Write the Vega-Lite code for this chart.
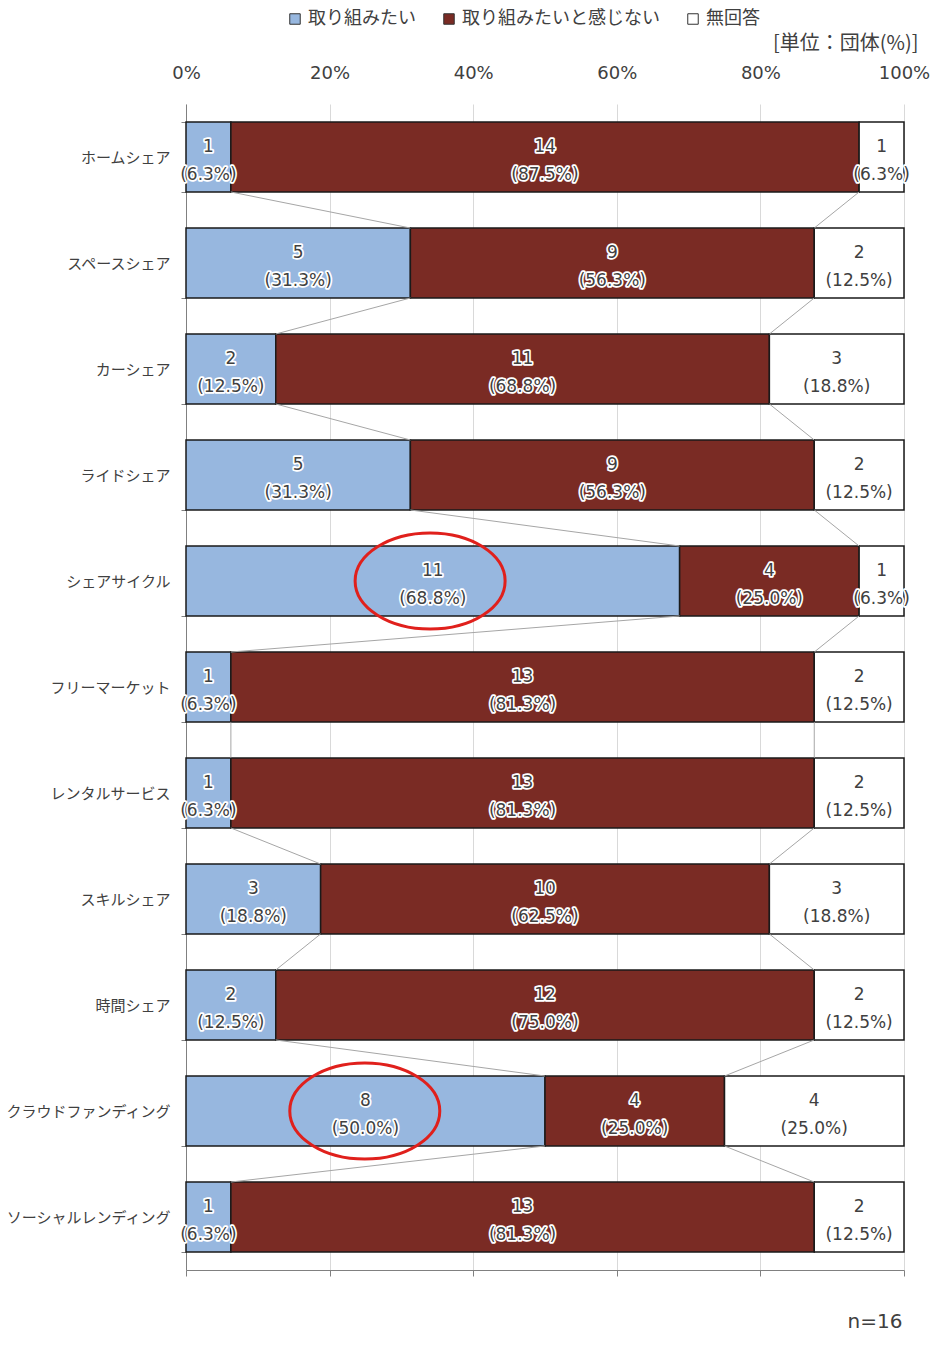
{
  "$schema": "https://vega.github.io/schema/vega-lite/v6.json",
  "width": 718,
  "height": 1166,
  "autosize": {"type": "none"},
  "padding": {"left": 186, "top": 104, "right": 27, "bottom": 76},
  "background": "white",
  "config": {"font": "Noto Sans CJK JP", "view": {"stroke": null}},
  "resolve": {"axis": {"x": "independent", "y": "independent"}},
  "datasets": {
    "bars": [
      {"cat": "ホームシェア", "resp": "取り組みたい", "n": 1, "label": "1\n(6.3%)"},
      {"cat": "ホームシェア", "resp": "取り組みたいと感じない", "n": 14, "label": "14\n(87.5%)"},
      {"cat": "ホームシェア", "resp": "無回答", "n": 1, "label": "1\n(6.3%)"},
      {"cat": "スペースシェア", "resp": "取り組みたい", "n": 5, "label": "5\n(31.3%)"},
      {"cat": "スペースシェア", "resp": "取り組みたいと感じない", "n": 9, "label": "9\n(56.3%)"},
      {"cat": "スペースシェア", "resp": "無回答", "n": 2, "label": "2\n(12.5%)"},
      {"cat": "カーシェア", "resp": "取り組みたい", "n": 2, "label": "2\n(12.5%)"},
      {"cat": "カーシェア", "resp": "取り組みたいと感じない", "n": 11, "label": "11\n(68.8%)"},
      {"cat": "カーシェア", "resp": "無回答", "n": 3, "label": "3\n(18.8%)"},
      {"cat": "ライドシェア", "resp": "取り組みたい", "n": 5, "label": "5\n(31.3%)"},
      {"cat": "ライドシェア", "resp": "取り組みたいと感じない", "n": 9, "label": "9\n(56.3%)"},
      {"cat": "ライドシェア", "resp": "無回答", "n": 2, "label": "2\n(12.5%)"},
      {"cat": "シェアサイクル", "resp": "取り組みたい", "n": 11, "label": "11\n(68.8%)"},
      {"cat": "シェアサイクル", "resp": "取り組みたいと感じない", "n": 4, "label": "4\n(25.0%)"},
      {"cat": "シェアサイクル", "resp": "無回答", "n": 1, "label": "1\n(6.3%)"},
      {"cat": "フリーマーケット", "resp": "取り組みたい", "n": 1, "label": "1\n(6.3%)"},
      {"cat": "フリーマーケット", "resp": "取り組みたいと感じない", "n": 13, "label": "13\n(81.3%)"},
      {"cat": "フリーマーケット", "resp": "無回答", "n": 2, "label": "2\n(12.5%)"},
      {"cat": "レンタルサービス", "resp": "取り組みたい", "n": 1, "label": "1\n(6.3%)"},
      {"cat": "レンタルサービス", "resp": "取り組みたいと感じない", "n": 13, "label": "13\n(81.3%)"},
      {"cat": "レンタルサービス", "resp": "無回答", "n": 2, "label": "2\n(12.5%)"},
      {"cat": "スキルシェア", "resp": "取り組みたい", "n": 3, "label": "3\n(18.8%)"},
      {"cat": "スキルシェア", "resp": "取り組みたいと感じない", "n": 10, "label": "10\n(62.5%)"},
      {"cat": "スキルシェア", "resp": "無回答", "n": 3, "label": "3\n(18.8%)"},
      {"cat": "時間シェア", "resp": "取り組みたい", "n": 2, "label": "2\n(12.5%)"},
      {"cat": "時間シェア", "resp": "取り組みたいと感じない", "n": 12, "label": "12\n(75.0%)"},
      {"cat": "時間シェア", "resp": "無回答", "n": 2, "label": "2\n(12.5%)"},
      {"cat": "クラウドファンディング", "resp": "取り組みたい", "n": 8, "label": "8\n(50.0%)"},
      {"cat": "クラウドファンディング", "resp": "取り組みたいと感じない", "n": 4, "label": "4\n(25.0%)"},
      {"cat": "クラウドファンディング", "resp": "無回答", "n": 4, "label": "4\n(25.0%)"},
      {"cat": "ソーシャルレンディング", "resp": "取り組みたい", "n": 1, "label": "1\n(6.3%)"},
      {"cat": "ソーシャルレンディング", "resp": "取り組みたいと感じない", "n": 13, "label": "13\n(81.3%)"},
      {"cat": "ソーシャルレンディング", "resp": "無回答", "n": 2, "label": "2\n(12.5%)"}
    ],
    "links": [
      {"from": "ホームシェア", "to": "スペースシェア", "xa": 0.0625, "xb": 0.3125},
      {"from": "ホームシェア", "to": "スペースシェア", "xa": 0.9375, "xb": 0.875},
      {"from": "スペースシェア", "to": "カーシェア", "xa": 0.3125, "xb": 0.125},
      {"from": "スペースシェア", "to": "カーシェア", "xa": 0.875, "xb": 0.8125},
      {"from": "カーシェア", "to": "ライドシェア", "xa": 0.125, "xb": 0.3125},
      {"from": "カーシェア", "to": "ライドシェア", "xa": 0.8125, "xb": 0.875},
      {"from": "ライドシェア", "to": "シェアサイクル", "xa": 0.3125, "xb": 0.6875},
      {"from": "ライドシェア", "to": "シェアサイクル", "xa": 0.875, "xb": 0.9375},
      {"from": "シェアサイクル", "to": "フリーマーケット", "xa": 0.6875, "xb": 0.0625},
      {"from": "シェアサイクル", "to": "フリーマーケット", "xa": 0.9375, "xb": 0.875},
      {"from": "フリーマーケット", "to": "レンタルサービス", "xa": 0.0625, "xb": 0.0625},
      {"from": "フリーマーケット", "to": "レンタルサービス", "xa": 0.875, "xb": 0.875},
      {"from": "レンタルサービス", "to": "スキルシェア", "xa": 0.0625, "xb": 0.1875},
      {"from": "レンタルサービス", "to": "スキルシェア", "xa": 0.875, "xb": 0.8125},
      {"from": "スキルシェア", "to": "時間シェア", "xa": 0.1875, "xb": 0.125},
      {"from": "スキルシェア", "to": "時間シェア", "xa": 0.8125, "xb": 0.875},
      {"from": "時間シェア", "to": "クラウドファンディング", "xa": 0.125, "xb": 0.5},
      {"from": "時間シェア", "to": "クラウドファンディング", "xa": 0.875, "xb": 0.75},
      {"from": "クラウドファンディング", "to": "ソーシャルレンディング", "xa": 0.5, "xb": 0.0625},
      {"from": "クラウドファンディング", "to": "ソーシャルレンディング", "xa": 0.75, "xb": 0.875}
    ],
    "circles": [
      {"cat": "シェアサイクル", "x": 0.34},
      {"cat": "クラウドファンディング", "x": 0.249}
    ]
  },
  "layer": [
    {
      "data": {"name": "bars"},
      "mark": {"type": "bar", "stroke": "#1a1a1a", "strokeWidth": 1.5},
      "encoding": {
        "y": {
          "field": "cat", "type": "nominal", "sort": null,
          "scale": {
            "domain": ["ホームシェア", "スペースシェア", "カーシェア", "ライドシェア", "シェアサイクル", "フリーマーケット", "レンタルサービス", "スキルシェア", "時間シェア", "クラウドファンディング", "ソーシャルレンディング"],
            "paddingInner": 0.34, "paddingOuter": 0.17
          },
          "axis": {
            "orient": "left", "title": null, "tickBand": "extent", "tickSize": 5, "tickColor": "#808080",
            "domainColor": "#808080", "labelFontSize": 15, "labelColor": "#404040",
            "labelPadding": 11, "labelLimit": 300, "grid": false
          }
        },
        "x": {
          "field": "n", "type": "quantitative", "stack": "normalize",
          "scale": {"domain": [0, 1], "nice": false},
          "axis": {
            "orient": "top", "format": "%", "values": [0, 0.2, 0.4, 0.6, 0.8, 1],
            "domain": false, "ticks": false, "labelFlush": false, "labelFont": "DejaVu Sans",
            "labelFontSize": 18, "labelColor": "#404040", "labelPadding": 22,
            "grid": true, "gridColor": "#d9d9d9", "gridWidth": 1,
            "title": "[単位：団体(%)]", "titleFontSize": 20, "titleFontWeight": "normal",
            "titleColor": "#404040", "titleAlign": "right", "titleAnchor": "end",
            "titleX": 732, "titleY": -55, "titleBaseline": "alphabetic"
          }
        },
        "color": {
          "field": "resp", "type": "nominal",
          "scale": {
            "domain": ["取り組みたい", "取り組みたいと感じない", "無回答"],
            "range": ["#97b7df", "#7a2b24", "#ffffff"]
          },
          "legend": {
            "orient": "none", "legendX": 100, "legendY": -94, "direction": "horizontal",
            "title": null, "symbolType": "square", "symbolSize": 110,
            "symbolStrokeColor": "#333333", "symbolStrokeWidth": 1,
            "labelFontSize": 18, "labelColor": "#404040", "labelOffset": 4,
            "labelLimit": 400, "columnPadding": 24
          }
        },
        "order": {"field": "resp", "sort": "ascending"}
      }
    },
    {
      "data": {"name": "links"},
      "mark": {"type": "rule", "stroke": "#a6a6a6", "strokeWidth": 1},
      "encoding": {
        "x": {
          "field": "xa", "type": "quantitative",
          "axis": {
            "orient": "bottom", "values": [0, 0.2, 0.4, 0.6, 0.8, 1], "labels": false,
            "ticks": true, "tickSize": 6, "tickColor": "#808080", "domainColor": "#808080",
            "grid": false, "title": "n=16", "titleFont": "DejaVu Sans", "titleFontSize": 20,
            "titleFontWeight": "normal", "titleColor": "#404040", "titleAlign": "right",
            "titleAnchor": "end", "titleX": 716, "titleY": 57, "titleBaseline": "alphabetic"
          }
        },
        "x2": {"field": "xb"},
        "y": {"field": "from", "type": "nominal", "sort": null, "bandPosition": 1, "axis": null},
        "y2": {"field": "to", "bandPosition": 0}
      }
    },
    {
      "data": {"name": "bars"},
      "mark": {"type": "text", "lineBreak": "\n", "font": "DejaVu Sans", "fontSize": 17, "lineHeight": 28, "baseline": "middle", "dy": -10, "fill": "white", "stroke": "white", "strokeWidth": 3.5, "strokeJoin": "round"},
      "encoding": {
        "x": {"field": "n", "type": "quantitative", "stack": "normalize", "bandPosition": 0.5, "axis": null},
        "y": {"field": "cat", "type": "nominal", "sort": null, "axis": null},
        "detail": {"field": "resp"},
        "order": {"field": "resp", "sort": "ascending"},
        "text": {"field": "label"}
      }
    },
    {
      "data": {"name": "bars"},
      "mark": {"type": "text", "lineBreak": "\n", "font": "DejaVu Sans", "fontSize": 17, "lineHeight": 28, "baseline": "middle", "dy": -10, "fill": "#404040"},
      "encoding": {
        "x": {"field": "n", "type": "quantitative", "stack": "normalize", "bandPosition": 0.5, "axis": null},
        "y": {"field": "cat", "type": "nominal", "sort": null, "axis": null},
        "detail": {"field": "resp"},
        "order": {"field": "resp", "sort": "ascending"},
        "text": {"field": "label"}
      }
    },
    {
      "data": {"name": "circles"},
      "mark": {"type": "point", "shape": "M-1,0A1,0.64,0,1,1,1,0A1,0.64,0,1,1,-1,0Z", "size": 22500, "filled": false, "stroke": "#e0201c", "strokeWidth": 3, "opacity": 1},
      "encoding": {
        "x": {"field": "x", "type": "quantitative", "axis": null},
        "y": {"field": "cat", "type": "nominal", "sort": null, "axis": null}
      }
    }
  ]
}
